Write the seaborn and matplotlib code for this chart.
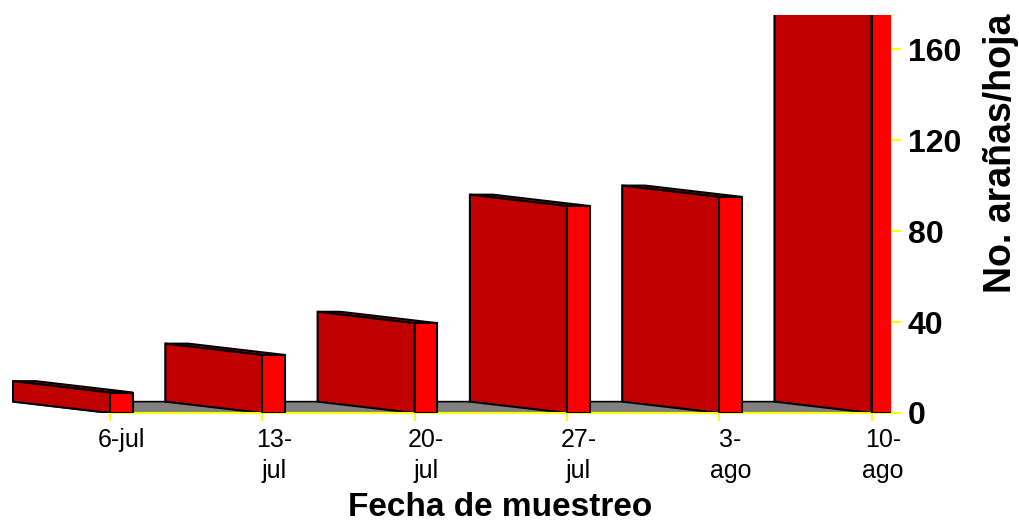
import matplotlib
matplotlib.use('Agg')
import matplotlib.pyplot as plt
from matplotlib.patches import Polygon
import seaborn as sns
import pandas as pd

# Fechas de muestreo y numero de aranas por hoja
fechas = ['6-jul', '13-\njul', '20-\njul', '27-\njul', '3-\nago', '10-\nago']
aranas = [9, 25.5, 39.5, 91, 95, 190]
y_ticks = [0, 40, 80, 120, 160]

front_color = '#FF0000'
side_color = '#C00000'
floor_color = '#808080'
axis_color = '#FFFF00'

sns.set_style('white')
plt.rcParams['font.family'] = ['Liberation Sans', 'DejaVu Sans']

df = pd.DataFrame({'Fecha': fechas, 'Aranas': aranas})

fig = plt.figure(figsize=(10.19, 5.28), dpi=100)
ax = fig.add_axes([8 / 1019, 115 / 528, 883 / 1019, 398 / 528])

bar_w = 0.15
sns.barplot(data=df, x='Fecha', y='Aranas', color=front_color, saturation=1,
            width=bar_w, edgecolor='black', linewidth=1.5, ax=ax)

x_left, x_right = -0.745, 5.053
ax.set_xlim(x_left, x_right)
ax.set_ylim(0, 175)

# depth offset of the oblique 3D look (back faces go up-left)
dx, dy = -0.637, 5.0

fronts = list(ax.patches)
x0s = [p.get_x() for p in fronts]

# floor
floor = Polygon([(x0s[0], 0), (x_right + 0.1, 0), (x_right + 0.1 + dx, dy), (x0s[0] + dx, dy)],
                closed=True, facecolor=floor_color, edgecolor='black', linewidth=1.2, zorder=1.5)
ax.add_patch(floor)

for p in fronts:
    x0, w, h = p.get_x(), p.get_width(), p.get_height()
    top = Polygon([(x0, h), (x0 + w, h), (x0 + w + dx, h + dy), (x0 + dx, h + dy)],
                  closed=True, facecolor=side_color, edgecolor='black', linewidth=1.5, zorder=2)
    side = Polygon([(x0, 0), (x0, h), (x0 + dx, h + dy), (x0 + dx, dy)],
                   closed=True, facecolor=side_color, edgecolor='black', linewidth=1.5, zorder=2)
    ax.add_patch(top)
    ax.add_patch(side)
    p.set_zorder(3)

# axes: yellow bottom and right lines
for s in ['top', 'left']:
    ax.spines[s].set_visible(False)
ax.spines['bottom'].set_color(axis_color)
ax.spines['right'].set_color(axis_color)
ax.spines['bottom'].set_linewidth(1.5)
ax.spines['right'].set_linewidth(1.5)
ax.spines['bottom'].set_bounds(x0s[0], x_right)

ax.yaxis.tick_right()
ax.set_yticks(y_ticks)
ax.set_yticklabels([str(t) for t in y_ticks], fontsize=23, fontweight='bold')
ax.tick_params(axis='y', right=True, colors=axis_color, length=7, width=1.5, pad=5,
               labelcolor='black')

ax.set_xticks(range(len(fechas)))
ax.set_xticklabels(fechas, fontsize=18, linespacing=1.35)
ax.set_xticks(x0s, minor=True)
ax.tick_params(axis='x', which='major', bottom=True, length=0, pad=11, labelcolor='black')
ax.tick_params(axis='x', which='minor', bottom=True, colors=axis_color, length=6, width=1.5)

ax.set_xlabel('')
ax.set_ylabel('')

fig.text(500 / 1019, 1 - 516 / 528, 'Fecha de muestreo', fontsize=24, fontweight='bold',
         color='black', ha='center', va='baseline')
fig.text(1001 / 1019, 1 - 153 / 528, 'No. arañas/hoja', fontsize=27, fontweight='bold',
         color='black', ha='center', va='center', rotation=90)

fig.savefig('out.png', dpi=100)
